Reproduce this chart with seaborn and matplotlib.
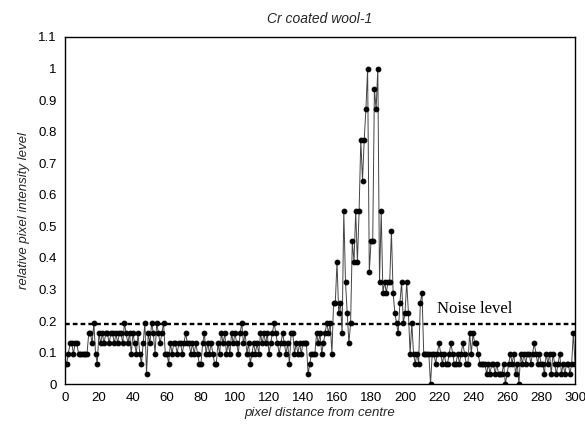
import numpy as np
import pandas as pd
import matplotlib
matplotlib.use("Agg")
import matplotlib.pyplot as plt
import seaborn as sns

# relative pixel intensity, pixel distance 0..300 (step 1)
intensity_0_59 = [
    0.065, 0.065, 0.097, 0.129, 0.129, 0.097, 0.129, 0.129, 0.097, 0.097,
    0.097, 0.097, 0.097, 0.097, 0.161, 0.161, 0.129, 0.194, 0.097, 0.065,
    0.161, 0.129, 0.161, 0.129, 0.161, 0.161, 0.129, 0.161, 0.161, 0.129,
    0.161, 0.129, 0.161, 0.161, 0.129, 0.194, 0.161, 0.129, 0.161, 0.097,
    0.161, 0.129, 0.097, 0.161, 0.097, 0.065, 0.129, 0.194, 0.032, 0.161,
    0.129, 0.194, 0.161, 0.097, 0.194, 0.161, 0.129, 0.161, 0.194, 0.097,
]
intensity_60_119 = [
    0.097, 0.065, 0.129, 0.097, 0.129, 0.129, 0.097, 0.129, 0.129, 0.097,
    0.129, 0.161, 0.129, 0.129, 0.097, 0.129, 0.097, 0.129, 0.097, 0.065,
    0.065, 0.129, 0.161, 0.097, 0.129, 0.097, 0.129, 0.097, 0.065, 0.065,
    0.129, 0.097, 0.161, 0.129, 0.161, 0.097, 0.129, 0.097, 0.161, 0.129,
    0.161, 0.129, 0.097, 0.161, 0.194, 0.129, 0.161, 0.097, 0.129, 0.065,
    0.097, 0.129, 0.097, 0.129, 0.097, 0.161, 0.129, 0.161, 0.129, 0.161,
]
intensity_120_179 = [
    0.097, 0.129, 0.161, 0.194, 0.161, 0.129, 0.097, 0.129, 0.161, 0.129,
    0.097, 0.129, 0.065, 0.161, 0.161, 0.097, 0.129, 0.097, 0.129, 0.097,
    0.129, 0.129, 0.129, 0.032, 0.065, 0.097, 0.097, 0.097, 0.161, 0.129,
    0.161, 0.097, 0.129, 0.161, 0.194, 0.161, 0.194, 0.097, 0.258, 0.258,
    0.387, 0.226, 0.258, 0.161, 0.548, 0.323, 0.226, 0.129, 0.194, 0.452,
    0.387, 0.548, 0.387, 0.548, 0.774, 0.645, 0.774, 0.871, 1.000, 0.355,
]
intensity_180_239 = [
    0.452, 0.452, 0.935, 0.871, 1.000, 0.323, 0.548, 0.290, 0.323, 0.290,
    0.323, 0.323, 0.484, 0.290, 0.226, 0.194, 0.161, 0.258, 0.323, 0.194,
    0.226, 0.323, 0.226, 0.097, 0.194, 0.097, 0.065, 0.097, 0.065, 0.258,
    0.290, 0.097, 0.097, 0.097, 0.097, 0.000, 0.097, 0.097, 0.065, 0.097,
    0.129, 0.097, 0.065, 0.097, 0.065, 0.065, 0.097, 0.129, 0.097, 0.065,
    0.065, 0.097, 0.065, 0.097, 0.129, 0.097, 0.065, 0.065, 0.161, 0.097,
]
intensity_240_300 = [
    0.161, 0.129, 0.129, 0.097, 0.065, 0.065, 0.065, 0.065, 0.032, 0.065,
    0.032, 0.065, 0.065, 0.032, 0.065, 0.032, 0.032, 0.032, 0.065, 0.000,
    0.032, 0.065, 0.097, 0.065, 0.097, 0.032, 0.065, 0.000, 0.097, 0.065,
    0.097, 0.065, 0.097, 0.097, 0.065, 0.097, 0.129, 0.097, 0.065, 0.097,
    0.065, 0.065, 0.032, 0.097, 0.065, 0.097, 0.032, 0.097, 0.065, 0.032,
    0.065, 0.097, 0.032, 0.065, 0.032, 0.065, 0.065, 0.032, 0.065, 0.161,
    0.065,
]
intensity = (intensity_0_59 + intensity_60_119 + intensity_120_179
             + intensity_180_239 + intensity_240_300)
distance = list(range(len(intensity)))
noise_level = 0.19
x_ticks = list(range(0, 301, 20))
y_ticks = [0, 0.1, 0.2, 0.3, 0.4, 0.5, 0.6, 0.7, 0.8, 0.9, 1, 1.1]
y_tick_labels = ["0", "0.1", "0.2", "0.3", "0.4", "0.5", "0.6", "0.7",
                 "0.8", "0.9", "1", "1.1"]

df = pd.DataFrame({"distance": distance, "intensity": intensity})

sns.set_style("white")
plt.rcParams["font.family"] = ["Liberation Sans", "DejaVu Sans"]

fig = plt.figure(figsize=(5.85, 4.4), dpi=100)
ax = fig.add_axes([0.111, 0.127, 0.872, 0.789])

ax.axhline(noise_level, color="black", lw=1.7, ls=(0, (2.0, 1.3)), zorder=1)
sns.lineplot(data=df, x="distance", y="intensity", ax=ax, color="#444444",
             lw=0.7, marker="o", markersize=3.4, markerfacecolor="black",
             markeredgecolor="black", zorder=2)

ax.set_xlim(0, 300)
ax.set_ylim(0, 1.1)
ax.set_xticks(x_ticks)
ax.set_yticks(y_ticks)
ax.set_yticklabels(y_tick_labels)
ax.tick_params(axis="both", direction="in", length=3, width=0.8,
               labelsize=9.5, colors="black", pad=6)
for s in ax.spines.values():
    s.set_color("black")
    s.set_linewidth(1.0)

ax.set_xlabel("pixel distance from centre", fontstyle="italic", fontsize=9.5,
              labelpad=2)
ax.set_ylabel("relative pixel intensity level", fontstyle="italic",
              fontsize=9.5, labelpad=6)
ax.set_title("Cr coated wool-1", fontstyle="italic", fontsize=10, pad=10)
ax.text(219, 0.225, "Noise level", fontsize=12,
        family=["Liberation Serif", "DejaVu Serif"], color="black")

fig.savefig("out.png", dpi=100)
